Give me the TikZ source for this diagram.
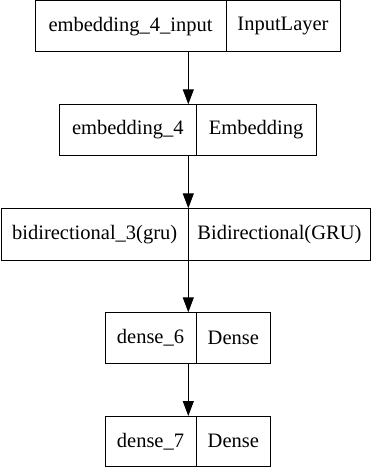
\documentclass[tikz,border=0pt]{standalone}
\usepackage{fontspec}
\setmainfont{Liberation Serif}
\usetikzlibrary{arrows.meta}
\begin{document}
\begin{tikzpicture}[x=1pt,y=-1pt,
  cell/.style={draw=black, line width=1pt, rectangle, inner sep=0pt, outer sep=0pt,
    font=\fontsize{20.5}{24}\selectfont},
  conn/.style={draw=black, line width=1pt, -{Triangle[length=15pt,width=11pt]}}]
\useasboundingbox (0,0) rectangle (372,470);
% box 1
\node[cell, minimum width=191pt, minimum height=50.7pt] (b1l) at (130.5,26.35) {embedding\_4\_input};
\node[cell, minimum width=114pt, minimum height=50.7pt] (b1r) at (283,26.35) {InputLayer};
% box 2
\node[cell, minimum width=137pt, minimum height=51.4pt] (b2l) at (127.8,130) {embedding\_4};
\node[cell, minimum width=119.7pt, minimum height=51.4pt] (b2r) at (256.15,130) {Embedding};
% box 3
\node[cell, minimum width=187.3pt, minimum height=51.7pt] (b3l) at (94.65,234.15) {bidirectional\_3(gru)};
\node[cell, minimum width=182.2pt, minimum height=51.7pt] (b3r) at (279.4,234.15) {Bidirectional(GRU)};
% box 4
\node[cell, minimum width=91pt, minimum height=51pt] (b4l) at (150.5,337.8) {dense\_6};
\node[cell, minimum width=74.7pt, minimum height=51pt] (b4r) at (233.35,337.8) {Dense};
% box 5
\node[cell, minimum width=91pt, minimum height=50.7pt] (b5l) at (150.5,441.35) {dense\_7};
\node[cell, minimum width=74.7pt, minimum height=50.7pt] (b5r) at (233.35,441.35) {Dense};
% arrows
\coordinate (ax) at (188.3,0);
\draw[conn] (b1l.south -| ax) -- (b2l.north -| ax);
\draw[conn] (b2l.south -| ax) -- (b3l.north -| ax);
\draw[conn] (b3l.south -| ax) -- (b4l.north -| ax);
\draw[conn] (b4l.south -| ax) -- (b5l.north -| ax);
\end{tikzpicture}
\end{document}
